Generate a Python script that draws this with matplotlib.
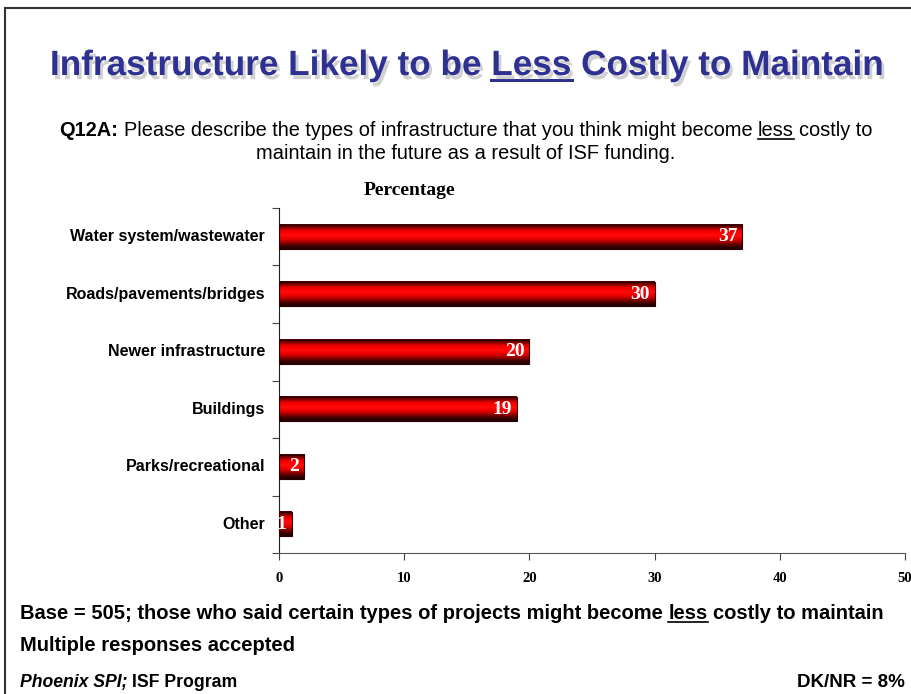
import numpy as np
import matplotlib
matplotlib.use("Agg")
import matplotlib.pyplot as plt
from matplotlib import patheffects
from matplotlib.font_manager import fontManager
from matplotlib.lines import Line2D
from matplotlib.patches import Rectangle

# donnees
categories = ["Water system/wastewater", "Roads/pavements/bridges", "Newer infrastructure",
              "Buildings", "Parks/recreational", "Other"]
valeurs = [37, 30, 20, 19, 2, 1]
x_ticks = [0, 10, 20, 30, 40, 50]

W, H = 912, 694
noms = {f.name for f in fontManager.ttflist}
NARROW = "Liberation Sans Narrow" if "Liberation Sans Narrow" in noms else "Liberation Sans"
SERIF = "Liberation Serif"


def fx(px):
    return px / W


def fy(py):
    return 1 - py / H


fig = plt.figure(figsize=(W / 100, H / 100), dpi=100)
renderer = fig.canvas.get_renderer()


def largeur(texte, **kw):
    t = fig.text(0, 0, texte, **kw)
    bb = t.get_window_extent(renderer)
    t.remove()
    return bb.width


def ligne(morceaux, xc, y, ha="center", size=12, family=NARROW):
    # morceaux: (texte, weight, style, souligne)
    esp = largeur("x x", size=size, family=family) - largeur("xx", size=size, family=family)
    larg = []
    for txt, wt, st, _ in morceaux:
        larg.append(largeur(txt, size=size, family=family, weight=wt, style=st))
    total = sum(larg) + esp * (len(morceaux) - 1)
    if ha == "center":
        x = xc - total / 2
    elif ha == "right":
        x = xc - total
    else:
        x = xc
    for (txt, wt, st, sou), w in zip(morceaux, larg):
        fig.text(fx(x), fy(y), txt, size=size, family=family, weight=wt, style=st,
                 va="baseline", ha="left")
        if sou:
            fig.add_artist(Line2D([fx(x), fx(x + w)], [fy(y + 3), fy(y + 3)],
                                  color="black", lw=1.2))
        x += w + esp


# cadre
fig.add_artist(Rectangle((fx(5), fy(H + 10)), 1, fy(8) - fy(H + 10), fill=False,
                         edgecolor="#333333", lw=1.5))

# titre
ombre = [patheffects.withSimplePatchShadow(offset=(2, -3), shadow_rgbFace="#9a9a9a", alpha=0.45)]
titre = "Infrastructure Likely to be Less Costly to Maintain"
tsize = 25.3
xt = 467
fig.text(fx(xt), fy(75), titre, size=tsize, family=NARROW, weight="bold", color="#2E3192",
         ha="center", va="baseline", path_effects=ombre)
wt_tot = largeur(titre, size=tsize, family=NARROW, weight="bold")
w1 = largeur("Infrastructure Likely to be Less", size=tsize, family=NARROW, weight="bold")
w2 = largeur("Less", size=tsize, family=NARROW, weight="bold")
gauche = xt - wt_tot / 2
fig.add_artist(Line2D([fx(gauche + w1 - w2), fx(gauche + w1)], [fy(80), fy(80)],
                      color="#2E3192", lw=2.2))

# question
ligne([("Q12A:", "bold", "normal", False),
       ("Please describe the types of infrastructure that you think might become", "normal", "normal", False),
       ("less", "normal", "normal", True),
       ("costly to", "normal", "normal", False)], 466, 136, size=14.4)
ligne([("maintain in the future as a result of ISF funding.", "normal", "normal", False)],
      466, 159, size=14.4)

# graphique
ax = fig.add_axes([fx(279), fy(553), fx(905) - fx(279), fy(208) - fy(553)])
n = len(categories)
y = np.arange(n)[::-1]
hauteur = 0.42
grad = np.array([[0.30, 0, 0], [0.55, 0, 0], [0.9, 0, 0], [1, 0, 0], [1, 0.05, 0.05],
                 [0.95, 0, 0], [0.8, 0, 0], [0.55, 0, 0], [0.3, 0, 0], [0.15, 0, 0]])
grad = grad[:, None, :]
for yi, v in zip(y, valeurs):
    ax.imshow(grad, extent=(0, v, yi - hauteur / 2, yi + hauteur / 2), aspect="auto",
              interpolation="bilinear", zorder=2)
    ax.add_patch(Rectangle((0, yi - hauteur / 2), v, hauteur, fill=False,
                           edgecolor="#2a0000", lw=0.8, zorder=3))
    ax.text(v - 0.4, yi, str(v), color="white", family=SERIF, weight="bold", size=14,
            ha="right", va="center", zorder=4)

ax.set_xlim(0, 50)
ax.set_ylim(-0.5, n - 0.5)
ax.set_xticks(x_ticks)
ax.set_xticklabels([str(t) for t in x_ticks], family=SERIF, weight="bold", size=10.5)
ax.set_yticks(np.arange(n + 1) - 0.5)
ax.set_yticklabels([])
ax.tick_params(axis="y", length=5, direction="out", color="#444444")
ax.tick_params(axis="x", length=5, direction="out", color="#444444", pad=9)
for yi, c in zip(y, categories):
    ax.text(-1.1, yi, c, family=NARROW, weight="bold", size=11.5, ha="right", va="center")
ax.spines["top"].set_visible(False)
ax.spines["right"].set_visible(False)
ax.spines["left"].set_color("#222222")
ax.spines["bottom"].set_color("#555555")
ax.set_title("Percentage", family=SERIF, weight="bold", size=14, x=0.208, pad=9)

# notes
ligne([("Base = 505; those who said certain types of projects might become", "bold", "normal", False),
       ("less", "bold", "normal", True),
       ("costly to maintain", "bold", "normal", False)], 20, 619, ha="left", size=14.5)
ligne([("Multiple responses accepted", "bold", "normal", False)], 20, 651, ha="left", size=14.5)
ligne([("Phoenix SPI;", "bold", "italic", False), ("ISF Program", "bold", "normal", False)],
      20, 687, ha="left", size=12.7)
ligne([("DK/NR = 8%", "bold", "normal", False)], 905, 687, ha="right", size=13.5)

fig.savefig("out.png", dpi=100)
